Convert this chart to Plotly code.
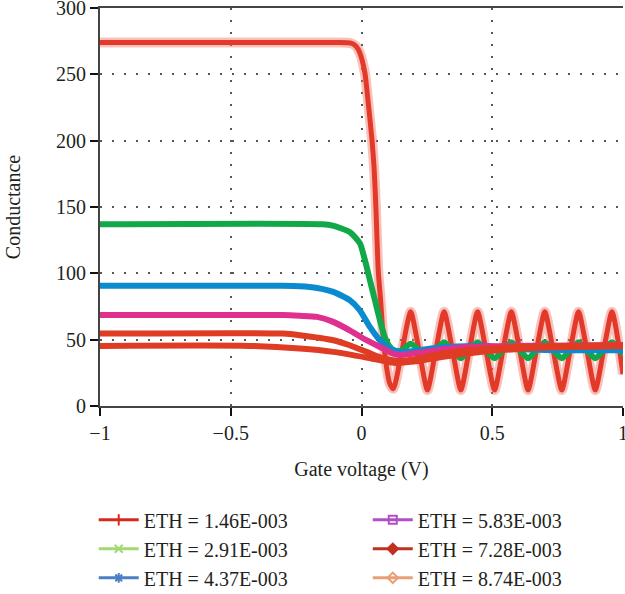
import plotly.graph_objects as go

# ---------------- data ----------------
labels = ["ETH = 1.46E-003", "ETH = 2.91E-003", "ETH = 4.37E-003",
          "ETH = 5.83E-003", "ETH = 7.28E-003", "ETH = 8.74E-003"]

x1 = [-1, -0.1, -0.04, -0.02, -0.006, 0.013, 0.026, 0.039, 0.048, 0.055, 0.064, 0.073, 0.083, 0.096, 0.108, 0.122,
      0.155, 0.188, 0.22, 0.252, 0.284, 0.316, 0.348, 0.380, 0.412, 0.444, 0.476, 0.509, 0.541, 0.573,
      0.605, 0.637, 0.669, 0.701, 0.733, 0.766, 0.798, 0.830, 0.862, 0.894, 0.926, 0.958, 1.0]
y1 = [274, 274, 273.5, 271, 266, 251, 228, 203, 180, 150, 102, 80, 52, 29, 17, 13,
      42, 71, 42, 12, 42, 71, 42, 12, 42, 71, 42, 12, 42, 71,
      42, 12, 42, 71, 42, 12, 42, 71, 42, 12, 42, 71, 24]

x2 = [-1, -0.15, -0.11, -0.044, -0.006, 0.013, 0.032, 0.051, 0.07, 0.089, 0.109, 0.13,
      0.155, 0.188, 0.22, 0.252, 0.284, 0.316, 0.348, 0.380, 0.412, 0.444, 0.476, 0.509, 0.541, 0.573,
      0.605, 0.637, 0.669, 0.701, 0.733, 0.766, 0.798, 0.830, 0.862, 0.894, 0.926, 0.958, 1.0]
y2 = [137, 137, 136, 131, 122.6, 110, 95, 80, 65, 52, 44.5, 41,
      42, 47, 42, 36, 42, 48, 42, 36, 42, 48, 42, 36, 42, 48,
      42, 36, 42, 48, 42, 36, 42, 48, 42, 36, 42, 48, 39]

x3 = [-1, -0.3, -0.236, -0.17, -0.108, -0.045, -0.006, 0.032, 0.07, 0.108, 0.134, 0.16, 0.2, 0.274, 0.4, 0.49, 0.6, 0.8, 1.0]
y3 = [90.6, 90.6, 90.3, 89, 86, 79.8, 72, 59.6, 49.6, 43.3, 41.5, 40.5, 41.5, 43.5, 45, 45, 43, 42, 42]

x4 = [-1, -0.3, -0.236, -0.17, -0.108, -0.045, 0.019, 0.083, 0.12, 0.15, 0.2, 0.338, 0.49, 0.7, 1.0]
y4 = [68.5, 68.5, 68, 67.2, 63.4, 57, 49.6, 43.3, 39.5, 38.5, 39.5, 43.3, 45, 45.5, 46]

x5 = [-1, -0.3, -0.236, -0.108, -0.045, 0.019, 0.083, 0.14, 0.2, 0.274, 0.40, 0.53, 0.7, 1.0]
y5 = [54.6, 54.6, 53.4, 49.6, 45.8, 40.8, 35.8, 34, 35, 38.3, 42, 44, 45, 45.8]

x6 = [-1, -0.43, -0.236, -0.108, 0.019, 0.083, 0.13, 0.2, 0.274, 0.40, 0.53, 0.7, 1.0]
y6 = [45.3, 45.3, 43.3, 40.8, 36.5, 34, 32.5, 33.5, 35.8, 39.5, 42, 44, 45]

x_ticks = [-1, -0.5, 0, 0.5, 1]
x_ticklabels = ["\u22121", "\u22120.5", "0", "0.5", "1"]
y_ticks = [0, 50, 100, 150, 200, 250, 300]

# ---------------- styles ----------------
line_colors = ["#e3392a", "#12a84a", "#0a8bd0", "#e0308e", "#e03c24", "#e03c24"]
legend_colors = ["#d9281e", "#a3d973", "#4d7fc6", "#b04fc8", "#c03020", "#e9a077"]
legend_symbols = ["line-ns", "x-thin", "asterisk", "square-open", "diamond", "diamond-open"]
FONT = "Liberation Serif, Times New Roman, serif"

fig = go.Figure()
series = [(x1, y1), (x2, y2), (x3, y3), (x4, y4), (x5, y5), (x6, y6)]
for i, (xs, ys) in enumerate(series):
    if i == 0:
        # light halo that mimics the dense "+" markers of the first series
        fig.add_trace(go.Scatter(
            x=xs, y=ys, mode="lines", showlegend=False,
            line=dict(color="rgba(240,120,105,0.45)", width=10, shape="spline", smoothing=0.6),
            hoverinfo="skip"))
    fig.add_trace(go.Scatter(
        x=xs, y=ys, mode="lines", showlegend=False,
        line=dict(color=line_colors[i], width=6 if i else 5, shape="spline", smoothing=0.6),
        hoverinfo="skip"))

# legend entries (two columns)
for i, lab in enumerate(labels):
    fig.add_trace(go.Scatter(
        x=[None], y=[None], mode="lines+markers", name=lab,
        legend="legend" if i < 3 else "legend2", legendgroup=f"g{i}",
        line=dict(color=legend_colors[i], width=3),
        marker=dict(symbol=legend_symbols[i], size=8, color=legend_colors[i],
                    line=dict(color=legend_colors[i], width=2))))

axis_common = dict(
    showline=True, linecolor="#444", linewidth=2,
    ticks="outside", ticklen=8, tickwidth=2, tickcolor="#111",
    showgrid=True, gridcolor="#555", gridwidth=1.5, griddash="2px,10px",
    zeroline=False, automargin=False, ticklabeloverflow="allow",
    tickfont=dict(family=FONT, size=20, color="#231f20"),
)

fig.update_layout(
    width=625, height=594,
    margin=dict(l=100, r=2, t=8, b=188, autoexpand=False),
    paper_bgcolor="white", plot_bgcolor="white",
    font=dict(family=FONT, size=20, color="#231f20"),
    xaxis=dict(range=[-1, 1], tickvals=x_ticks, ticktext=x_ticklabels, mirror=True,
               title=dict(text="Gate voltage (V)", font=dict(family=FONT, size=20), standoff=19),
               **axis_common),
    yaxis=dict(range=[0, 300], tickvals=y_ticks,
               title=dict(text="Conductance", font=dict(family=FONT, size=20), standoff=30),
               **axis_common),
    legend=dict(x=-0.012, y=-0.237, xanchor="left", yanchor="top", orientation="v",
                tracegroupgap=0, itemwidth=40, bgcolor="rgba(0,0,0,0)",
                font=dict(family=FONT, size=20, color="#231f20")),
    legend2=dict(x=0.512, y=-0.237, xanchor="left", yanchor="top", orientation="v",
                 tracegroupgap=0, itemwidth=40, bgcolor="rgba(0,0,0,0)",
                 font=dict(family=FONT, size=20, color="#231f20")),
)

fig.write_html("out.html", config={"displayModeBar": False},
               post_script="document.body.style.margin='0';")
